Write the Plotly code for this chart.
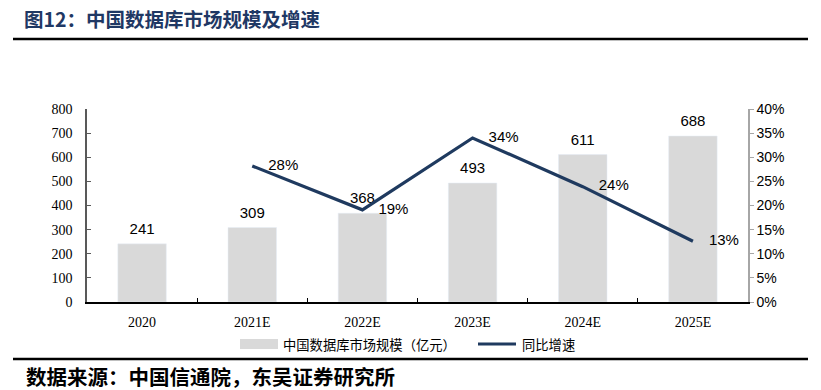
import plotly.graph_objects as go

categories = ["2020", "2021E", "2022E", "2023E", "2024E", "2025E"]
market_size = [241, 309, 368, 493, 611, 688]
growth = [None, 0.282, 0.191, 0.34, 0.239, 0.126]
growth_labels = [None, "28%", "19%", "34%", "24%", "13%"]
left_ticks = list(range(0, 801, 100))
right_ticks = [i * 0.05 for i in range(9)]

W, H = 821, 390
L, R, T, B = 87, 748, 109, 302

def px(x):
    return (x - L) / (R - L)

def py(y):
    return (B - y) / (B - T)

BAR_C = "#D9D9D9"
LINE_C = "#1F3A5F"

fig = go.Figure()
fig.add_trace(go.Bar(
    x=categories, y=market_size, marker_color=BAR_C, width=0.44,
    showlegend=False, yaxis="y", hoverinfo="skip"))
fig.add_trace(go.Scatter(
    x=categories, y=market_size, mode="markers+text", yaxis="y",
    marker=dict(size=8, color="rgba(0,0,0,0)"),
    text=[str(v) for v in market_size], textposition="top center",
    textfont=dict(family="Liberation Sans, Arial", size=15, color="#000000"),
    cliponaxis=False, showlegend=False))
fig.add_trace(go.Scatter(
    x=categories, y=growth, mode="lines", yaxis="y2",
    line=dict(color=LINE_C, width=3.2),
    cliponaxis=False, showlegend=False))
fig.add_trace(go.Scatter(
    x=categories, y=growth, mode="markers+text", yaxis="y2",
    marker=dict(size=24, color="rgba(0,0,0,0)"),
    text=growth_labels, textposition="middle right",
    textfont=dict(family="Liberation Sans, Arial", size=15, color="#000000"),
    cliponaxis=False, showlegend=False))

fig.update_layout(
    width=W, height=H,
    margin=dict(l=L, r=W - R, t=T, b=H - B),
    paper_bgcolor="white", plot_bgcolor="white",
    xaxis=dict(type="category", showline=True, linecolor="#000000", linewidth=1.5,
               ticks="inside", ticklen=4, tickcolor="#000000", tickson="boundaries",
               tickfont=dict(family="Liberation Serif, Times New Roman", size=14, color="#000000"),
               showgrid=False, zeroline=False, ticklabelstandoff=6),
    yaxis=dict(range=[0, 800], tickvals=left_ticks, showline=True, linecolor="#595959", linewidth=1.5,
               ticks="inside", ticklen=4, tickcolor="#595959",
               tickfont=dict(family="Liberation Serif, Times New Roman", size=14, color="#000000"),
               showgrid=False, zeroline=False, ticklabelstandoff=10),
    yaxis2=dict(range=[0, 0.4], tickvals=right_ticks, tickformat=".0%", overlaying="y", side="right",
                showline=True, linecolor="#A6A6A6", linewidth=1.5,
                ticks="outside", ticklen=4, tickcolor="#A6A6A6",
                tickfont=dict(family="Liberation Sans, Arial", size=14, color="#000000"),
                showgrid=False, zeroline=False),
    title=dict(text="<b>图12：中国数据库市场规模及增速</b>", x=24 / W, xanchor="left",
               y=1 - 20 / H, yanchor="middle",
               font=dict(family="Noto Sans CJK SC", size=19.5, color="#1F3864")),
)

shapes = [
    dict(type="line", xref="paper", yref="paper", x0=px(13), x1=px(808), y0=py(39), y1=py(39),
         line=dict(color="#000000", width=2.5)),
    dict(type="line", xref="paper", yref="paper", x0=px(13), x1=px(808), y0=py(359), y1=py(359),
         line=dict(color="#000000", width=2.5)),
    dict(type="rect", xref="paper", yref="paper", x0=px(240), x1=px(278), y0=py(349), y1=py(339),
         fillcolor=BAR_C, line=dict(width=0)),
    dict(type="line", xref="paper", yref="paper", x0=px(478), x1=px(516), y0=py(344), y1=py(344),
         line=dict(color=LINE_C, width=3.2)),
]
annotations = [
    dict(text="中国数据库市场规模（亿元）", xref="paper", yref="paper", x=px(281), y=py(344),
         xanchor="left", yanchor="middle", showarrow=False,
         font=dict(family="Noto Sans CJK SC", size=13.3, color="#000000")),
    dict(text="同比增速", xref="paper", yref="paper", x=px(520), y=py(344),
         xanchor="left", yanchor="middle", showarrow=False,
         font=dict(family="Noto Sans CJK SC", size=13.3, color="#000000")),
    dict(text="<b>数据来源：中国信通院，东吴证券研究所</b>", xref="paper", yref="paper", x=px(24), y=py(376),
         xanchor="left", yanchor="middle", showarrow=False,
         font=dict(family="Noto Sans CJK SC", size=20.5, color="#000000")),
]
fig.update_layout(shapes=shapes, annotations=annotations)
fig.write_html("out.html", config={"displayModeBar": False},
               post_script="document.body.style.margin='0px';")
